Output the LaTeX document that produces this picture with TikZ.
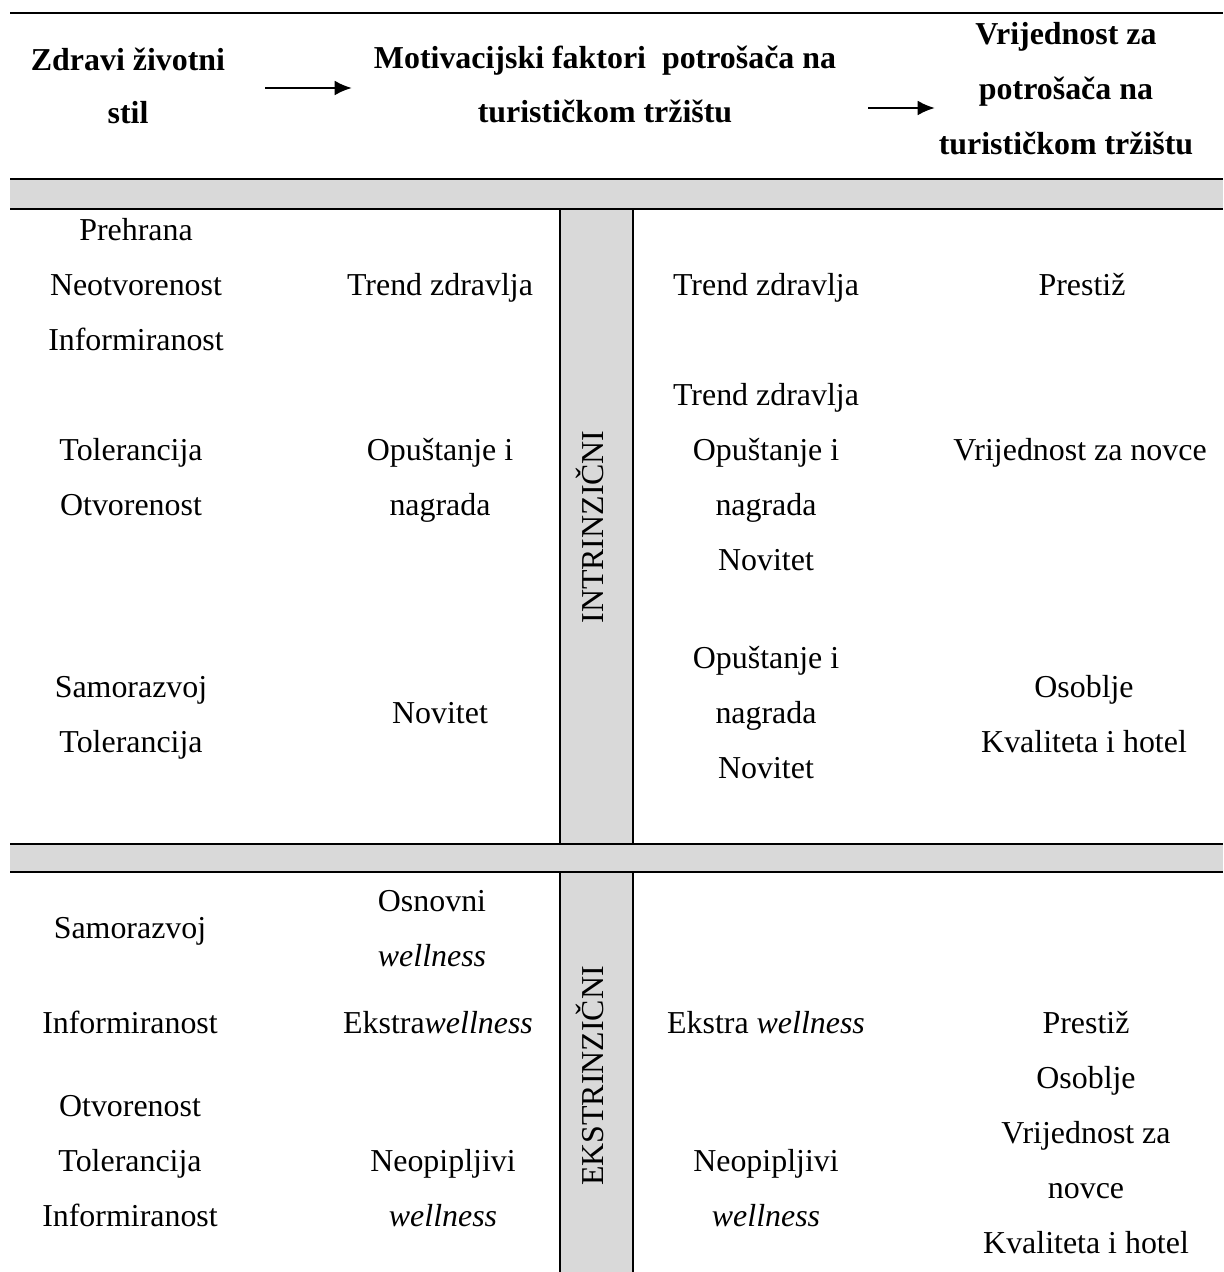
\documentclass[tikz,border=0pt]{standalone}
\usepackage{fontspec}
\setmainfont{Liberation Serif}
\usetikzlibrary{arrows.meta}
\definecolor{bandgray}{HTML}{D9D9D9}
\tikzset{
  cell/.style={anchor=mid,inner sep=0pt,font=\fontsize{12}{14}\selectfont},
  head/.style={cell,font=\fontsize{12}{14}\selectfont\bfseries},
}
\begin{document}
\begin{tikzpicture}[x=0.376pt,y=-0.376pt,>={Latex[length=6.5pt,width=5.6pt]},line width=0.9pt]
\useasboundingbox (0,0) rectangle (1223,1272);
% grey bands
\fill[bandgray] (10,179) rectangle (1223,209);
\fill[bandgray] (10,844) rectangle (1223,872);
\fill[bandgray] (560,209) rectangle (633,844);
\fill[bandgray] (560,872) rectangle (633,1272);
\foreach \y in {13,179,209,844,872}
	\draw (10,\y) -- (1223,\y);
\foreach \x in {560,633}{
	\draw (\x,209) -- (\x,844);
	\draw (\x,872) -- (\x,1272);
}
% header
\node[head] (zdr1) at (128,64) {Zdravi životni};
\node[head] (zdr2) at (128,117) {stil};
\node[head] (mot1) at (605,62) {Motivacijski faktori\ \ potrošača na};
\node[head] (mot2) at (605,116) {turističkom tržištu};
\node[head] (vri1) at (1066,38) {Vrijednost za};
\node[head] (vri2) at (1066,93) {potrošača na};
\node[head] (vri3) at (1066,148) {turističkom tržištu};
\coordinate (arA1) at (265,88);
\coordinate (arA2) at (352,88);
\coordinate (arB1) at (868,108);
\coordinate (arB2) at (935,108);
\draw[->,line width=1pt] (arA1) -- (arA2);
\draw[->,line width=1pt] (arB1) -- (arB2);
% side labels
\node[cell,rotate=90] (intr) at (597,527) {INTRINZIČNI};
\node[cell,rotate=90] (ekst) at (597,1076) {EKSTRINZIČNI};
% intrinzicni
\foreach \w [count=\i from 0] in {Prehrana,Neotvorenost,Informiranost}
	\node[cell] (ia1-\i) at (136,{234+55*\i}) {\w};
\foreach \w [count=\i from 0] in {Tolerancija,Otvorenost}
	\node[cell] (ia2-\i) at (131,{454+55*\i}) {\w};
\foreach \w [count=\i from 0] in {Samorazvoj,Tolerancija}
	\node[cell] (ia3-\i) at (131,{691+55*\i}) {\w};
\node[cell] (ib1) at (440,289) {Trend zdravlja};
\foreach \w [count=\i from 0] in {Opuštanje i,nagrada}
	\node[cell] (ib2-\i) at (440,{454+55*\i}) {\w};
\node[cell] (ib3) at (440,717) {Novitet};
\node[cell] (ic1) at (766,289) {Trend zdravlja};
\foreach \w [count=\i from 0] in {Trend zdravlja,Opuštanje i,nagrada,Novitet}
	\node[cell] (ic2-\i) at (766,{399+55*\i}) {\w};
\foreach \w [count=\i from 0] in {Opuštanje i,nagrada,Novitet}
	\node[cell] (ic3-\i) at (766,{662+55*\i}) {\w};
\node[cell] (id1) at (1082,289) {Prestiž};
\node[cell] (id2) at (1080,454) {Vrijednost za novce};
\foreach \w [count=\i from 0] in {Osoblje,Kvaliteta i hotel}
	\node[cell] (id3-\i) at (1084,{691+55*\i}) {\w};
% ekstrinzicni
\node[cell] (ea1) at (130,932) {Samorazvoj};
\node[cell] (ea2) at (130,1027) {Informiranost};
\foreach \w [count=\i from 0] in {Otvorenost,Tolerancija,Informiranost}
	\node[cell] (ea3-\i) at (130,{1110+55*\i}) {\w};
\foreach \w [count=\i from 0] in {Osnovni,\textit{wellness}}
	\node[cell] (eb1-\i) at (432,{905+55*\i}) {\w};
\node[cell] (eb2) at (438,1027) {Ekstra\textit{wellness}};
\foreach \w [count=\i from 0] in {Neopipljivi,\textit{wellness}}
	\node[cell] (eb3-\i) at (443,{1165+55*\i}) {\w};
\node[cell] (ec1) at (766,1027) {Ekstra \textit{wellness}};
\foreach \w [count=\i from 0] in {Neopipljivi,\textit{wellness}}
	\node[cell] (ec2-\i) at (766,{1165+55*\i}) {\w};
\foreach \w [count=\i from 0] in {Prestiž,Osoblje,Vrijednost za,novce,Kvaliteta i hotel}
	\node[cell] (ed1-\i) at (1086,{1027+55*\i}) {\w};
\end{tikzpicture}
\end{document}
